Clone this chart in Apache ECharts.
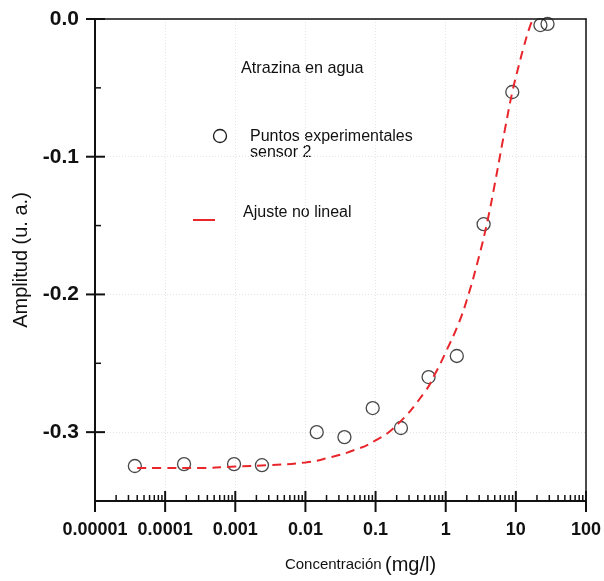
<!DOCTYPE html>
<html>
<head>
<meta charset="utf-8">
<script src="https://cdn.jsdelivr.net/npm/echarts@6/dist/echarts.min.js"></script>
<style>
html,body{margin:0;padding:0;background:#fff;}
#chart{width:604px;height:581px;}
</style>
</head>
<body>
<div id="chart"></div>
<script>
// Experimental points (sensor 2)
var pointsX = [3.7e-5, 1.86e-4, 9.6e-4, 2.4e-3, 0.0145, 0.036, 0.091, 0.23, 0.57, 1.44, 3.47, 8.9, 22.4, 28.3];
var pointsY = [-0.3246, -0.3232, -0.3232, -0.3240, -0.3000, -0.3036, -0.2825, -0.2970, -0.2600, -0.2447, -0.1490, -0.0530, -0.0044, -0.0036];

// Non-linear fit
var fitX = [4e-5, 1e-4, 3e-4, 1e-3, 3e-3, 0.01, 0.02, 0.05, 0.1, 0.2, 0.5, 0.7, 1, 1.5, 2, 3, 4, 5, 7, 9, 11, 13, 15.5, 17.5];
var fitY = [-0.326, -0.326, -0.326, -0.325, -0.324, -0.322, -0.319, -0.313, -0.306, -0.295, -0.271, -0.258, -0.242, -0.222, -0.204, -0.172, -0.145, -0.120, -0.080, -0.052, -0.034, -0.020, -0.007, 0.0];

// Axis ticks and labels
var xTickLabels = ['0.00001', '0.0001', '0.001', '0.01', '0.1', '1', '10', '100'];
var xDecades = [1e-5, 1e-4, 1e-3, 1e-2, 1e-1, 1, 10, 100];
var xMinorMultipliers = [2, 3, 4, 5, 6, 7, 8, 9];
var yMajorTicks = [0, -0.1, -0.2, -0.3];
var yMinorTicks = [-0.05, -0.15, -0.25];
var yTickLabels = {'0': '0.0', '-0.1': '-0.1', '-0.2': '-0.2', '-0.3': '-0.3'};

var X_MIN = 1e-5, X_MAX = 100, Y_MIN = -0.35, Y_MAX = 0;

var tickData = [];
xDecades.forEach(function (d) {
  tickData.push([d, Y_MIN, 0]);
  if (d < X_MAX) {
    xMinorMultipliers.forEach(function (m) { tickData.push([d * m, Y_MIN, 1]); });
  }
});
yMajorTicks.forEach(function (v) { tickData.push([X_MIN, v, 2]); });
yMinorTicks.forEach(function (v) { tickData.push([X_MIN, v, 3]); });

var chart = echarts.init(document.getElementById('chart'), null, {renderer: 'canvas'});
var FONT = '"Liberation Sans", Arial, Helvetica, sans-serif';
var gridLine = {show: true, lineStyle: {color: '#e4e4e4', width: 1, type: [1, 2]}};

var option = {
  backgroundColor: '#fff',
  animation: false,
  textStyle: {fontFamily: FONT},
  grid: {left: 95, right: 18, top: 19, bottom: 80},
  xAxis: [{
    type: 'log', logBase: 10, min: X_MIN, max: X_MAX, splitNumber: 7,
    axisLine: {show: true, onZero: false, lineStyle: {color: '#111', width: 2}},
    axisTick: {show: false},
    minorTick: {show: false},
    splitLine: gridLine,
    axisLabel: {
      color: '#111', fontWeight: 'bold', fontSize: 18, fontFamily: FONT, margin: 20,
      formatter: function (v, i) { return xTickLabels[i] !== undefined ? xTickLabels[i] : ''; }
    },
    name: '{a|Concentración} {b|(mg/l)}',
    nameLocation: 'middle', nameGap: 54,
    nameTextStyle: {
      color: '#111', fontFamily: FONT, padding: [0, 0, 0, 40],
      rich: {a: {fontSize: 15, color: '#111', fontFamily: FONT}, b: {fontSize: 20, color: '#111', fontFamily: FONT}}
    }
  }, {
    type: 'log', logBase: 10, min: X_MIN, max: X_MAX, position: 'top',
    axisLine: {show: true, onZero: false, lineStyle: {color: '#111', width: 1.5}},
    axisTick: {show: false}, axisLabel: {show: false}, splitLine: {show: false}
  }],
  yAxis: [{
    type: 'value', min: Y_MIN, max: Y_MAX, splitNumber: 4,
    axisLine: {show: true, onZero: false, lineStyle: {color: '#111', width: 2}},
    axisTick: {show: false},
    splitLine: gridLine,
    axisLabel: {
      color: '#111', fontWeight: 'bold', fontSize: 21, fontFamily: FONT, margin: 16,
      formatter: function (v) {
        if (Math.abs(v * 10 - Math.round(v * 10)) > 1e-6) return '';
        var k = String(Math.round(v * 10) / 10);
        if (k === '-0') k = '0';
        return yTickLabels[k] || '';
      }
    },
    name: 'Amplitud (u. a.)',
    nameLocation: 'middle', nameGap: 62,
    nameTextStyle: {color: '#111', fontSize: 20, fontFamily: FONT}
  }, {
    type: 'value', min: Y_MIN, max: Y_MAX, position: 'right',
    axisLine: {show: true, onZero: false, lineStyle: {color: '#111', width: 1.5}},
    axisTick: {show: false}, axisLabel: {show: false}, splitLine: {show: false}
  }],
  series: [
    {
      name: 'ticks', type: 'custom', silent: true, clip: false, z: 5,
      data: tickData,
      encode: {x: 0, y: 1},
      renderItem: function (params, api) {
        var p = api.coord([api.value(0), api.value(1)]);
        var k = api.value(2);
        var s;
        if (k === 0) s = {x1: p[0], y1: p[1] - 10, x2: p[0], y2: p[1] + 11};
        else if (k === 1) s = {x1: p[0], y1: p[1] - 6, x2: p[0], y2: p[1]};
        else if (k === 2) s = {x1: p[0] - 9, y1: p[1], x2: p[0] + 10, y2: p[1]};
        else s = {x1: p[0], y1: p[1], x2: p[0] + 6, y2: p[1]};
        return {type: 'line', shape: s, style: {stroke: '#111', lineWidth: k === 0 || k === 2 ? 2 : 1.5}};
      }
    },
    {
      name: 'Puntos experimentales sensor 2', type: 'scatter', z: 3,
      data: pointsX.map(function (x, i) { return [x, pointsY[i]]; }),
      symbol: 'circle', symbolSize: 13,
      itemStyle: {color: 'rgba(0,0,0,0)', borderColor: '#1a1a1a', borderWidth: 1.3}
    },
    {
      name: 'Ajuste no lineal', type: 'line', z: 4,
      data: fitX.map(function (x, i) { return [x, fitY[i]]; }),
      smooth: true, showSymbol: false,
      lineStyle: {color: '#e8262b', width: 2, type: [9, 6]}
    }
  ],
  graphic: [
    {type: 'text', left: 241, top: 61, style: {text: 'Atrazina en agua', fontSize: 16.2, fontFamily: FONT, fill: '#111'}},
    {type: 'circle', shape: {cx: 220, cy: 136, r: 6.5}, style: {fill: 'none', stroke: '#1a1a1a', lineWidth: 1.3}},
    {type: 'text', left: 250, top: 128, style: {text: 'Puntos experimentales\nsensor 2', fontSize: 16, lineHeight: 16.5, fontFamily: FONT, fill: '#111'}},
    {type: 'line', shape: {x1: 193, y1: 220, x2: 215, y2: 220}, style: {stroke: '#e8262b', lineWidth: 2}},
    {type: 'text', left: 243, top: 205, style: {text: 'Ajuste no lineal', fontSize: 16, fontFamily: FONT, fill: '#111'}}
  ]
};
chart.setOption(option);
</script>
</body>
</html>
